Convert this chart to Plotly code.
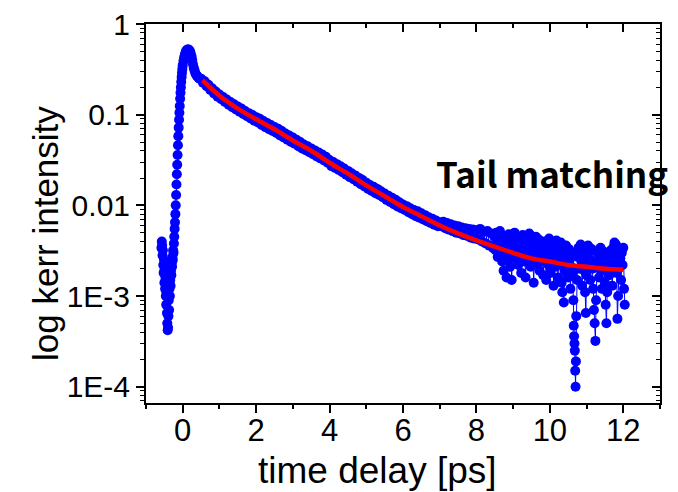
import plotly.graph_objects as go

# ---- data ----
# pre-rise noise
x_pre = [-0.58, -0.57, -0.56, -0.55, -0.54, -0.53, -0.52, -0.51, -0.50, -0.49, -0.48, -0.47,
         -0.46, -0.45, -0.44, -0.43, -0.42, -0.41, -0.40, -0.39, -0.38, -0.37, -0.36, -0.35,
         -0.34, -0.33, -0.32, -0.31, -0.30, -0.29, -0.28, -0.27, -0.26, -0.25, -0.24, -0.23,
         -0.22]
y_pre = [0.0034, 0.0040, 0.0036, 0.0028, 0.0032, 0.0022, 0.0018, 0.0025, 0.0014, 0.0020,
         0.0012, 0.0016, 0.0010, 0.0008, 0.0011, 0.00065, 0.0005, 0.00042, 0.00045, 0.0006,
         0.0009, 0.0007, 0.0012, 0.0010, 0.0015, 0.0013, 0.0019, 0.0017, 0.0023, 0.0021,
         0.0027, 0.0025, 0.0032, 0.0030, 0.0038, 0.0045, 0.0055]
# rise and peak
x_peak = [-0.21, -0.20, -0.19, -0.18, -0.17, -0.16, -0.15, -0.14, -0.13, -0.12, -0.11, -0.10,
          -0.09, -0.08, -0.07, -0.06, -0.05, -0.04, -0.03, -0.02, -0.01, 0.00, 0.02, 0.04,
          0.06, 0.08, 0.10, 0.12, 0.14, 0.16, 0.18, 0.20, 0.22, 0.24, 0.26, 0.28, 0.30, 0.32,
          0.34, 0.36, 0.38, 0.40, 0.43, 0.46]
y_peak = [0.0065, 0.008, 0.010, 0.013, 0.017, 0.022, 0.028, 0.036, 0.046, 0.058, 0.072, 0.088,
          0.105, 0.125, 0.15, 0.175, 0.20, 0.23, 0.26, 0.29, 0.32, 0.35, 0.39, 0.43,
          0.46, 0.49, 0.51, 0.52, 0.525, 0.525, 0.515, 0.50, 0.47, 0.44, 0.40, 0.36, 0.33, 0.31,
          0.29, 0.28, 0.27, 0.265, 0.255, 0.25]
# smooth decay
x_decay = [0.50, 0.55, 0.60, 0.65, 0.70, 0.75, 0.80, 0.85, 0.90, 0.95, 1.00, 1.05, 1.10, 1.15,
           1.20, 1.25, 1.30, 1.35, 1.40, 1.45, 1.50, 1.55, 1.60, 1.65, 1.70, 1.75, 1.80, 1.85,
           1.90, 1.95, 2.00, 2.05, 2.10, 2.15, 2.20, 2.25, 2.30, 2.35, 2.40, 2.45, 2.50, 2.55,
           2.60, 2.65, 2.70, 2.75, 2.80, 2.85, 2.90, 2.95, 3.00, 3.05, 3.10, 3.15, 3.20, 3.25,
           3.30, 3.35, 3.40, 3.45, 3.50, 3.55, 3.60, 3.65, 3.70, 3.75, 3.80, 3.85, 3.90, 3.95,
           4.00, 4.05, 4.10, 4.15, 4.20, 4.25, 4.30, 4.35, 4.40, 4.45, 4.50, 4.55, 4.60, 4.65,
           4.70, 4.75, 4.80, 4.85, 4.90, 4.95, 5.00, 5.05, 5.10, 5.15, 5.20, 5.25, 5.30, 5.35,
           5.40, 5.45, 5.50, 5.55, 5.60, 5.65, 5.70, 5.75, 5.80, 5.85, 5.90, 5.95, 6.00, 6.05,
           6.10, 6.15, 6.20, 6.25, 6.30, 6.35, 6.40, 6.45, 6.50, 6.55, 6.60, 6.65, 6.70, 6.75,
           6.80, 6.85, 6.90, 6.95, 7.00, 7.05, 7.10, 7.15, 7.20, 7.25, 7.30, 7.35, 7.40, 7.45,
           7.50, 7.55, 7.60, 7.65, 7.70, 7.75, 7.80, 7.85, 7.90, 7.95, 8.00, 8.05, 8.10, 8.15,
           8.20, 8.25, 8.30, 8.35, 8.40, 8.45]
y_decay = [0.250, 0.226, 0.234, 0.206, 0.214, 0.188, 0.196, 0.172, 0.180, 0.158, 0.167, 0.148,
           0.157, 0.138, 0.147, 0.129, 0.138, 0.121, 0.130, 0.114, 0.123, 0.108, 0.117, 0.102,
           0.110, 0.096, 0.104, 0.091, 0.099, 0.086, 0.094, 0.082, 0.090, 0.077, 0.085, 0.073,
           0.081, 0.069, 0.077, 0.066, 0.073, 0.063, 0.070, 0.059, 0.066, 0.056, 0.062, 0.053,
           0.059, 0.050, 0.056, 0.048, 0.053, 0.045, 0.050, 0.0425, 0.0468, 0.0405, 0.0448,
           0.0385, 0.0425, 0.0366, 0.0404, 0.0347, 0.0384, 0.0330, 0.0363, 0.0312, 0.0344,
           0.0295, 0.0316, 0.0271, 0.0300, 0.0258, 0.0285, 0.0245, 0.0270, 0.0232, 0.0255,
           0.0218, 0.0240, 0.0205, 0.0226, 0.0194, 0.0214, 0.0182, 0.0201, 0.0171, 0.0190,
           0.0162, 0.0178, 0.0152, 0.0168, 0.0144, 0.0160, 0.0136, 0.0152, 0.0130, 0.0143,
           0.0123, 0.0135, 0.0115, 0.0128, 0.0109, 0.0121, 0.0103, 0.0115, 0.0097, 0.0108,
           0.0093, 0.0102, 0.0089, 0.0098, 0.0084, 0.0093, 0.0080, 0.0089, 0.0076, 0.0086,
           0.0073, 0.0082, 0.0070, 0.0078, 0.0067, 0.0074, 0.0064, 0.0071, 0.0061, 0.0068,
           0.0059, 0.0065, 0.0059, 0.0066, 0.0056, 0.0064, 0.0054, 0.0062, 0.0052, 0.0060,
           0.0050, 0.0059, 0.0049, 0.0057, 0.0047, 0.0056, 0.0046, 0.0055, 0.0044, 0.0054,
           0.0043, 0.0053, 0.0042, 0.0055, 0.0040, 0.0051, 0.0038, 0.0052, 0.0036, 0.0049,
           0.0034]
# noisy tail
x_tail = [8.50, 8.52, 8.54, 8.56, 8.58, 8.60, 8.62, 8.64, 8.66, 8.68, 8.70, 8.72, 8.74, 8.76,
          8.78, 8.80, 8.82, 8.84, 8.86, 8.88, 8.90, 8.92, 8.94, 8.96, 8.98, 9.00, 9.02, 9.04,
          9.06, 9.08, 9.10, 9.12, 9.14, 9.16, 9.18, 9.20, 9.22, 9.24, 9.26, 9.28, 9.30, 9.32,
          9.34, 9.36, 9.38, 9.40, 9.42, 9.44, 9.46, 9.48, 9.50, 9.52, 9.54, 9.56, 9.58, 9.60,
          9.62, 9.64, 9.66, 9.68, 9.70, 9.72, 9.74, 9.76, 9.78, 9.80, 9.82, 9.84, 9.86, 9.88,
          9.90, 9.92, 9.94, 9.96, 9.98, 10.00, 10.02, 10.04, 10.06, 10.08, 10.10, 10.12, 10.14,
          10.16, 10.18, 10.20, 10.22, 10.24, 10.26, 10.28, 10.30, 10.32, 10.34, 10.36, 10.38,
          10.40, 10.42, 10.44, 10.46, 10.48, 10.50, 10.52, 10.54, 10.56, 10.58, 10.60, 10.62,
          10.64, 10.65, 10.66, 10.67, 10.68, 10.69, 10.70, 10.71, 10.72, 10.74, 10.76, 10.78,
          10.80, 10.82, 10.84, 10.86, 10.88, 10.90, 10.92, 10.94, 10.96, 10.98, 11.00, 11.02,
          11.04, 11.06, 11.08, 11.10, 11.12, 11.14, 11.16, 11.18, 11.20, 11.22, 11.24, 11.26,
          11.28, 11.30, 11.32, 11.34, 11.36, 11.38, 11.40, 11.42, 11.44, 11.46, 11.48, 11.50,
          11.52, 11.54, 11.56, 11.58, 11.60, 11.62, 11.64, 11.66, 11.68, 11.70, 11.72, 11.74,
          11.76, 11.78, 11.80, 11.82, 11.84, 11.86, 11.88, 11.90, 11.92, 11.94, 11.96, 11.98,
          12.00, 12.02, 12.04]
y_tail = [0.0045, 0.0032, 0.0050, 0.0038, 0.0027, 0.0044, 0.0035, 0.0052, 0.0030, 0.0041,
          0.0024, 0.0036, 0.0019, 0.0031, 0.0046, 0.0028, 0.0016, 0.0025, 0.0039, 0.0048,
          0.0033, 0.0021, 0.0037, 0.0015, 0.0029, 0.0043, 0.0034, 0.0050, 0.0026, 0.0040,
          0.0031, 0.0045, 0.0022, 0.0036, 0.0027, 0.0042, 0.0018, 0.0033, 0.0047, 0.0029,
          0.0039, 0.0024, 0.0016, 0.0032, 0.0044, 0.0026, 0.0037, 0.0049, 0.0030, 0.0021,
          0.0035, 0.0041, 0.0025, 0.0014, 0.0028, 0.0038, 0.0045, 0.0031, 0.0023, 0.0036,
          0.0042, 0.0019, 0.0029, 0.0034, 0.0024, 0.0039, 0.0017, 0.0030, 0.0040, 0.0026,
          0.0015, 0.0032, 0.0037, 0.0022, 0.0043, 0.0028, 0.0018, 0.0033, 0.0025, 0.0038,
          0.0013, 0.0027, 0.0035, 0.0021, 0.0041, 0.0030, 0.0016, 0.0026, 0.0034, 0.0023,
          0.0039, 0.0014, 0.0011, 0.0024, 0.00085, 0.0019, 0.0031, 0.0036, 0.0022, 0.0028,
          0.0016, 0.0033, 0.0025, 0.0012, 0.0021, 0.0030, 0.0018, 0.0009, 0.00047, 0.00036,
          0.00030, 0.00025, 0.00015, 0.0001, 0.00019, 0.0006, 0.0015, 0.0027, 0.0034, 0.0020,
          0.0029, 0.0037, 0.0024, 0.0013, 0.0026, 0.0032, 0.0019, 0.0011, 0.00065, 0.0017,
          0.0028, 0.0036, 0.0023, 0.0031, 0.0015, 0.0025, 0.0033, 0.0020, 0.0012, 0.0007,
          0.0005, 0.00032, 0.0009, 0.0021, 0.0030, 0.0024, 0.0016, 0.0027, 0.0034, 0.0019,
          0.0012, 0.0026, 0.0031, 0.0022, 0.0014, 0.0008, 0.0005, 0.0011, 0.0020, 0.0028,
          0.0017, 0.0024, 0.0032, 0.0021, 0.0013, 0.0027, 0.0035, 0.0039, 0.0029, 0.0037,
          0.0018, 0.00056, 0.0010, 0.0023, 0.0033, 0.0026, 0.0015, 0.0030, 0.0022, 0.0034,
          0.0012, 0.0008]

# tail-matching fit curve
x_fit = [0.54, 1.0, 1.5, 2.0, 2.5, 3.0, 3.5, 4.0, 4.5, 5.0, 5.5, 6.0, 6.5, 7.0, 7.5, 8.0,
         8.5, 9.0, 9.5, 10.0, 10.5, 11.0, 11.5, 12.0]
y_fit = [0.240, 0.162, 0.117, 0.089, 0.069, 0.052, 0.040, 0.0295, 0.0224, 0.0166, 0.0126,
         0.0096, 0.0076, 0.0060, 0.0049, 0.0041, 0.0035, 0.0030, 0.0026, 0.0024, 0.0022,
         0.0021, 0.0020, 0.00195]

x_data = x_pre + x_peak + x_decay + x_tail
y_data = y_pre + y_peak + y_decay + y_tail

y_tickvals = [1, 0.1, 0.01, 0.001, 0.0001]
y_ticktext = ["1", "0.1", "0.01", "1E-3", "1E-4"]
x_tickvals = [0, 2, 4, 6, 8, 10, 12]

minor_y = [k * 10.0 ** d for d in range(-5, 0) for k in range(2, 10)]
minor_x = [-1, 1, 3, 5, 7, 9, 11, 13]

FONT = "Liberation Sans, Arial, sans-serif"

fig = go.Figure()
fig.add_trace(go.Scatter(
    x=x_data, y=y_data, mode="lines+markers",
    line=dict(color="#0000FF", width=1),
    marker=dict(color="#0000FF", size=10),
    showlegend=False, hoverinfo="skip"))
fig.add_trace(go.Scatter(
    x=x_fit, y=y_fit, mode="lines",
    line=dict(color="#FF0000", width=4.5, shape="spline"),
    showlegend=False, hoverinfo="skip"))
# dummy trace for mirrored (inside-tick) axes
fig.add_trace(go.Scatter(x=[None], y=[None], xaxis="x2", yaxis="y2",
                         showlegend=False, hoverinfo="skip"))

xr = [-1, 13]
yr = [-4.18, 0.0005]

common = dict(showgrid=False, zeroline=False, showline=True, linecolor="black",
              linewidth=2, automargin=False, tickcolor="black", tickwidth=1.5)

fig.update_layout(
    width=670, height=484,
    margin=dict(l=138, r=18, t=16, b=89),
    paper_bgcolor="white", plot_bgcolor="white",
    font=dict(family=FONT, color="black"),
    xaxis=dict(
        range=xr, **common,
        tickmode="array", tickvals=x_tickvals,
        ticks="outside", ticklen=8, ticklabelstandoff=-9,
        tickfont=dict(family=FONT, size=31, color="black"),
        minor=dict(tickmode="array", tickvals=minor_x, ticks="outside",
                   ticklen=4, tickwidth=1.5, tickcolor="black"),
    ),
    yaxis=dict(
        type="log", range=yr, **common,
        tickmode="array", tickvals=y_tickvals, ticktext=y_ticktext,
        ticks="outside", ticklen=8, ticklabeloverflow="allow",
        tickfont=dict(family=FONT, size=30, color="black"),
        minor=dict(tickmode="array", tickvals=minor_y, ticks="outside",
                   ticklen=4, tickwidth=1.2, tickcolor="black"),
    ),
    xaxis2=dict(
        overlaying="x", side="top", anchor="y2", range=xr, **common,
        tickmode="array", tickvals=x_tickvals, showticklabels=False,
        ticks="inside", ticklen=8,
        minor=dict(tickmode="array", tickvals=minor_x, ticks="inside",
                   ticklen=4, tickwidth=1.5, tickcolor="black"),
    ),
    yaxis2=dict(
        overlaying="y", side="right", anchor="x2", type="log", range=yr, **common,
        tickmode="array", tickvals=y_tickvals, showticklabels=False,
        ticks="inside", ticklen=8,
        minor=dict(tickmode="array", tickvals=minor_y, ticks="inside",
                   ticklen=4, tickwidth=1.2, tickcolor="black"),
    ),
    annotations=[
        dict(text="log kerr intensity", textangle=-90, xref="paper", yref="paper",
             x=-0.1965, y=0.4485, xanchor="center", yanchor="middle", showarrow=False,
             font=dict(family=FONT, size=35, color="black")),
        dict(text="time delay [ps]", xref="paper", yref="paper",
             x=0.451, y=-0.177, xanchor="center", yanchor="middle", showarrow=False,
             font=dict(family=FONT, size=37, color="black")),
        dict(text="<b>Tail matching</b>", xref="paper", yref="paper",
             x=0.56, y=0.607, xanchor="left", yanchor="middle", showarrow=False,
             font=dict(family="Noto Sans CJK KR, Noto Sans, sans-serif", size=35, color="black")),
    ],
)

fig.write_html("out.html")
